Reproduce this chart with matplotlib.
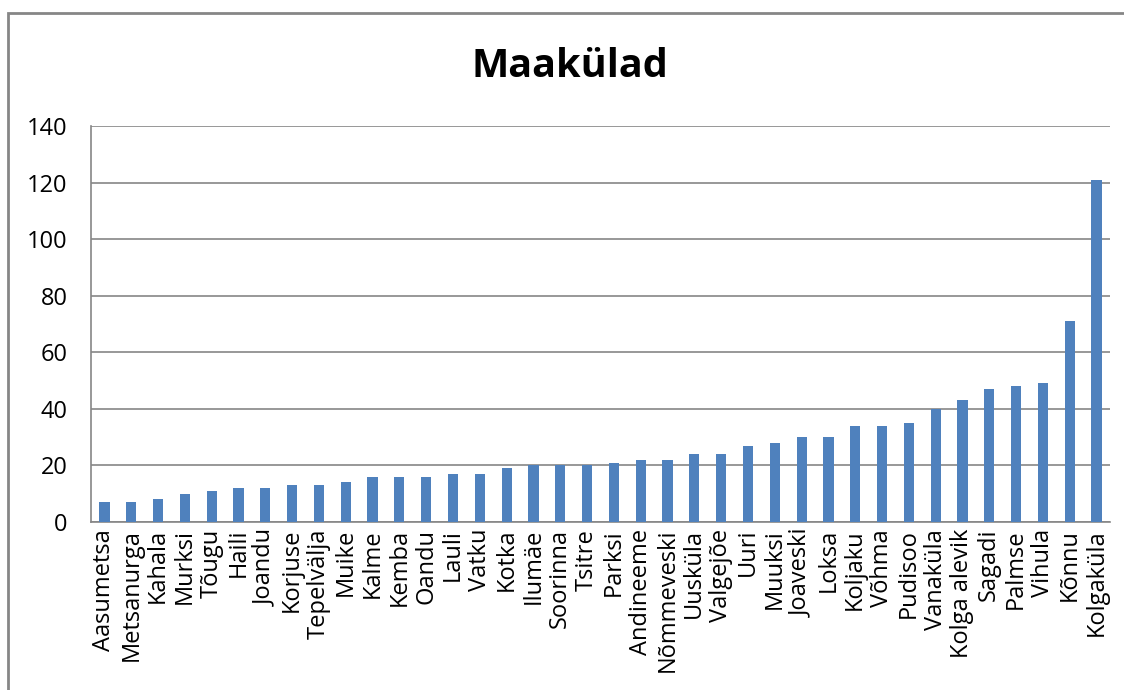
import numpy as np
import matplotlib.pyplot as plt
from matplotlib.patches import Rectangle

#### data ####
villages = ['Aasumetsa', 'Metsanurga', 'Kahala', 'Murksi', 'Tõugu', 'Haili', 'Joandu',
            'Korjuse', 'Tepelvälja', 'Muike', 'Kalme', 'Kemba', 'Oandu', 'Lauli', 'Vatku',
            'Kotka', 'Ilumäe', 'Soorinna', 'Tsitre', 'Parksi', 'Andineeme', 'Nõmmeveski',
            'Uusküla', 'Valgejõe', 'Uuri', 'Muuksi', 'Joaveski', 'Loksa', 'Koljaku', 'Võhma',
            'Pudisoo', 'Vanaküla', 'Kolga alevik', 'Sagadi', 'Palmse', 'Vihula', 'Kõnnu',
            'Kolgaküla']
counts = [7, 7, 8, 10, 11, 12, 12, 13, 13, 14, 16, 16, 16, 17, 17, 19, 20, 20, 20, 21, 22, 22,
          24, 24, 27, 28, 30, 30, 34, 34, 35, 40, 43, 47, 48, 49, 71, 121]
y_ticks = [0, 20, 40, 60, 80, 100, 120, 140]

plt.rcParams['font.family'] = ['Open Sans', 'DejaVu Sans']

fig = plt.figure(figsize=(11.24, 6.9), dpi=100, facecolor='w')
ax = fig.add_axes([0.081, 0.2435, 0.9065, 0.574])

# outer chart border
fig.patches.append(Rectangle((8 / 1124, -0.1), 1.2, 1 - 13 / 690 + 0.1, transform=fig.transFigure,
                             fill=False, edgecolor='#868686', linewidth=2))

x = np.arange(len(villages))
ax.bar(x, counts, width=0.38, color='#4f81bd', zorder=3)

ax.set_xlim(-0.5, len(villages) - 0.5)
ax.set_ylim(0, 140)
ax.set_yticks(y_ticks)
ax.set_yticklabels([str(v) for v in y_ticks], fontsize=17)
ax.set_xticks(x)
ax.set_xticklabels(villages, rotation=90, fontsize=17)
ax.tick_params(axis='y', length=0, pad=17)
ax.tick_params(axis='x', length=0, pad=5)

ax.grid(axis='y', color='#868686', linewidth=1.2, zorder=0)
for s in ['top', 'right']:
    ax.spines[s].set_visible(False)
for s in ['left', 'bottom']:
    ax.spines[s].set_color('#868686')
    ax.spines[s].set_linewidth(1.2)

fig.text(0.507, 0.903, 'Maakülad', ha='center', va='center', fontsize=28.5, fontweight='bold')

plt.savefig('out.png', dpi=100)
